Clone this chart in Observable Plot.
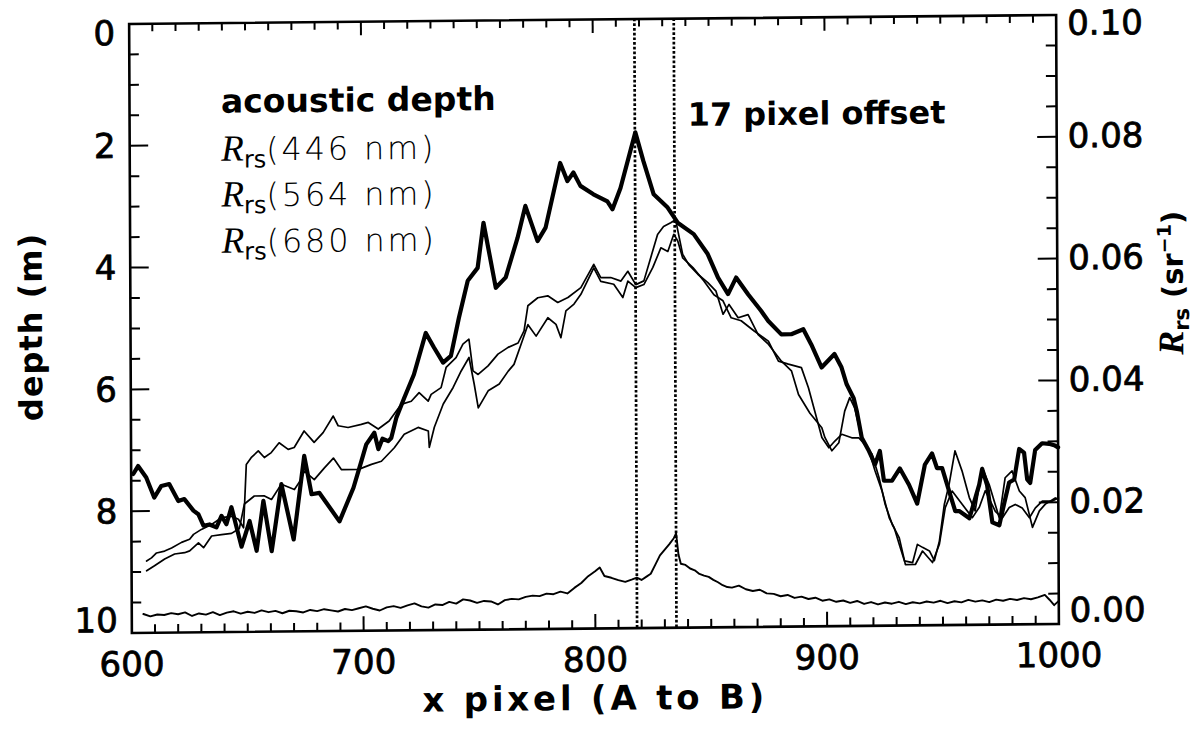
<!DOCTYPE html>
<html><head><meta charset="utf-8">
<script src="https://cdn.jsdelivr.net/npm/d3@7"></script>
<script src="https://cdn.jsdelivr.net/npm/@observablehq/plot@0.6"></script>
<style>
html,body{margin:0;padding:0;background:#fff;}
#chart{position:absolute;left:0;top:0;width:1199px;height:732px;transform-origin:593.5px 323px;transform:matrix(1,-0.00972,0.0045,1,0,0);}
#chart svg{overflow:visible;}
g[aria-label="x-labels"] text{letter-spacing:1px;}
</style></head><body><div id="chart"></div>
<script>
// ---------- data ----------
const xDomain = [600, 1000];
const depthDomain = [0, 10];
const xLabelTicks = [600, 700, 800, 900, 1000];
const xMajorTicks = [700, 800, 900];
const xMinorTicks = [610,620,630,640,650,660,670,680,690,710,720,730,740,750,760,770,780,790,810,820,830,840,850,860,870,880,890,910,920,930,940,950,960,970,980,990];
const depthTicks = [0, 2, 4, 6, 8, 10];
const depthMajorTicks = [2, 4, 6, 8];
const depthMinorTicks = [0.5,1,1.5,2.5,3,3.5,4.5,5,5.5,6.5,7,7.5,8.5,9,9.5];
const rrsTickLabels = ["0.10", "0.08", "0.06", "0.04", "0.02", "0.00"];
const offsetLines = [818, 835];

// acoustic depth (m) vs x pixel
const acoustic = [[600.9,7.39],[603,7.26],[606.5,7.45],[609.9,7.78],[613,7.59],[616.4,7.56],[620.3,7.84],[622.9,7.81],[626.8,8.0],[628.9,8.06],[631.1,8.25],[633.7,8.23],[636.7,8.28],[638.9,8.09],[641,8.23],[643.2,7.95],[647.5,8.6],[651,8.18],[654,8.67],[657,7.85],[660.5,8.68],[664.8,7.58],[670,8.49],[674.7,7.12],[677.8,7.75],[681.2,7.73],[689.8,8.2],[695.9,7.65],[699.4,7.21],[701.5,6.94],[705,6.75],[706.7,7.02],[708.5,6.85],[711,6.89],[712.3,6.84],[714.5,6.51],[718,6.18],[722.2,5.80],[727.4,5.12],[730.9,5.36],[734.8,5.61],[738.2,5.50],[741.7,4.88],[745.6,4.27],[749.9,4.06],[752.5,3.32],[757.7,4.39],[762,4.22],[767.2,3.57],[770.6,3.05],[775.8,3.63],[779.3,3.41],[785.7,2.35],[788.8,2.65],[791.4,2.51],[794.4,2.73],[800,2.87],[806,2.99],[808.2,3.12],[811.7,2.77],[818.2,1.86],[821.6,2.33],[826,2.88],[832,3.10],[836.3,3.35],[843.2,3.54],[849.2,3.87],[853.6,4.26],[857.9,4.53],[861.4,4.26],[866.6,4.54],[872.1,4.81],[875.2,4.98],[880.8,5.20],[885.1,5.20],[890.3,5.12],[893.7,5.37],[898.1,5.75],[903.7,5.53],[906.7,5.75],[908.9,6.03],[911.9,6.26],[913.2,6.47],[915.3,6.91],[918.4,7.13],[921,7.35],[923.1,7.13],[924.8,7.62],[928.3,7.62],[931.7,7.42],[935.6,7.69],[939.1,8.0],[942.5,7.36],[945.6,7.18],[947.7,7.42],[949.9,7.42],[952.9,7.8],[955.5,8.13],[957.2,8.13],[961.6,8.25],[965.9,7.70],[967.2,7.44],[969.3,7.71],[971.5,8.32],[974.5,8.37],[976.7,8.0],[978.8,7.67],[981,7.62],[983.2,7.12],[985.3,7.18],[986.6,7.62],[987.9,7.68],[990.1,7.14],[993.1,7.03],[996.1,7.04],[998.7,7.07],[1000,7.1]];

// Rrs (sr^-1) vs x pixel
const rrs446 = [[606.5,0.0118],[608.6,0.0123],[610.8,0.0131],[614.3,0.0134],[617.3,0.0139],[621.6,0.0148],[625.1,0.0153],[626.8,0.0161],[630.2,0.0169],[634.6,0.0177],[638.9,0.0188],[643.2,0.0190],[646.2,0.0185],[648.4,0.0171],[649.7,0.0275],[651.8,0.0286],[654.9,0.0297],[657.5,0.0286],[660.5,0.0294],[663.9,0.0310],[667.8,0.0299],[670.4,0.0302],[674.7,0.0329],[679,0.0310],[682.9,0.0326],[687.3,0.0353],[689.4,0.0337],[693.7,0.0334],[699.4,0.0339],[702.4,0.0342],[706.7,0.0331],[711.4,0.0344],[716.6,0.0371],[721,0.0376],[724.4,0.0390],[728.3,0.0376],[729.6,0.0387],[733.9,0.0398],[736.1,0.0431],[740.4,0.0447],[743.4,0.0469],[746,0.0477],[747.7,0.0425],[749.9,0.0419],[754.2,0.0433],[758.5,0.0452],[762.9,0.0463],[767.2,0.0470],[769.8,0.0490],[771.5,0.0531],[775.8,0.0544],[780.1,0.0547],[784.4,0.0536],[788.8,0.0544],[794.4,0.0560],[800,0.0598],[803,0.0576],[807.3,0.0576],[811.7,0.0570],[814.7,0.0586],[818.1,0.0564],[821.6,0.0570],[824.6,0.0608],[827.6,0.0646],[830.2,0.0659],[833.3,0.0665],[835.4,0.0670],[838.4,0.0613],[841,0.0596],[844.9,0.0580],[849.2,0.0566],[852.7,0.0552],[855.7,0.0514],[858.3,0.0530],[862.2,0.0508],[866.5,0.0513],[870.8,0.0480],[875.2,0.0464],[880.8,0.0436],[885.1,0.0420],[888.1,0.0381],[893,0.0350],[898.1,0.0326],[899.4,0.0310],[902.4,0.0288],[905.4,0.0301],[908,0.0353],[910.2,0.0375],[912.3,0.0358],[915.3,0.0309],[918.4,0.0287],[921,0.0254],[924,0.0221],[927,0.0177],[929.2,0.0160],[931.3,0.0133],[933.5,0.0106],[937,0.0103],[939.1,0.0133],[941.3,0.0128],[944.3,0.0122],[946.4,0.0106],[948.6,0.0138],[950.8,0.0198],[952.9,0.0231],[955.5,0.0286],[958.5,0.0253],[961.6,0.0209],[964.1,0.0187],[967.2,0.0258],[970.2,0.0230],[972.8,0.0197],[974.5,0.0175],[977.1,0.0241],[980.1,0.0252],[983.2,0.0219],[985.7,0.0208],[988.8,0.0159],[991.8,0.0186],[994.4,0.0197],[998.7,0.0207],[1000,0.0205]];

const rrs564 = [[606.5,0.0102],[609.9,0.0110],[614.3,0.0121],[618.6,0.0129],[622.9,0.0131],[625.1,0.0134],[628.9,0.0147],[631.1,0.0139],[634.6,0.0158],[638.9,0.0160],[643.2,0.0162],[646.6,0.0170],[648.8,0.0210],[653.1,0.0223],[657.5,0.0223],[660.5,0.0217],[664.8,0.0242],[670.4,0.0233],[673.4,0.0250],[674.7,0.0263],[679,0.0249],[683.4,0.0268],[687.3,0.0284],[690.7,0.0265],[698.1,0.0265],[703.7,0.0273],[708,0.0278],[713.6,0.0300],[717.9,0.0322],[723.9,0.0333],[728.3,0.0327],[728.7,0.0300],[730.9,0.0333],[734.8,0.0371],[739.1,0.0398],[742.6,0.0425],[746,0.0447],[748.2,0.0403],[749.9,0.0364],[754.2,0.0392],[759,0.0403],[762.9,0.0424],[765.4,0.0435],[768.5,0.0468],[771.5,0.0500],[775,0.0481],[780.1,0.0511],[783.6,0.0500],[785.7,0.0478],[787.9,0.0522],[791.4,0.0533],[794.4,0.0549],[800,0.0592],[803,0.0570],[808.6,0.0565],[812.5,0.0543],[814.7,0.0570],[818.1,0.0559],[821.6,0.0564],[825.5,0.0592],[829,0.0624],[832,0.0618],[834.6,0.0646],[836.3,0.0635],[838.4,0.0607],[842.8,0.0591],[847.5,0.0569],[851.8,0.0546],[855.7,0.0536],[859.2,0.0508],[863.5,0.0503],[869.1,0.0486],[875.2,0.0469],[879.5,0.0436],[883.8,0.0431],[889.4,0.0425],[892.4,0.0392],[898.1,0.0310],[901.1,0.0293],[903.7,0.0304],[906.7,0.0315],[911,0.0309],[914,0.0309],[916.6,0.0298],[919.7,0.0282],[922.7,0.0243],[925.3,0.0199],[928.3,0.0166],[931.3,0.0144],[933.9,0.0100],[938.2,0.0100],[941.3,0.0122],[945.6,0.0103],[948.6,0.0133],[951.2,0.0193],[954.2,0.0220],[958.5,0.0198],[962.9,0.0176],[965.9,0.0193],[968.5,0.0220],[972.8,0.0186],[975.8,0.0175],[978.8,0.0192],[981.4,0.0197],[984.4,0.0191],[987.5,0.0175],[990.1,0.0191],[993.1,0.0202],[997.4,0.0202],[1000,0.0207]];

const rrs680 = [[605,0.0031],[608,0.0027],[611,0.0030],[614,0.0029],[617,0.0032],[620,0.0030],[623,0.0033],[626,0.0027],[629,0.0031],[632,0.0029],[635,0.0033],[638,0.0028],[641,0.0032],[644,0.0034],[647,0.0030],[650,0.0033],[653,0.0031],[656,0.0035],[659,0.0032],[662,0.0034],[665,0.0030],[668,0.0034],[671,0.0033],[674,0.0031],[677,0.0035],[680,0.0033],[683,0.0036],[686,0.0034],[689,0.0032],[692,0.0036],[695,0.0034],[698,0.0037],[701,0.0040],[704,0.0036],[707,0.0033],[710,0.0038],[713,0.0040],[716,0.0037],[719,0.0041],[722,0.0044],[725,0.0039],[728,0.0037],[731,0.0042],[734,0.0041],[737,0.0046],[740,0.0043],[743,0.0050],[746,0.0048],[749,0.0044],[752,0.0047],[755,0.0046],[758,0.0041],[761,0.0048],[764,0.0050],[767,0.0049],[770,0.0053],[773,0.0055],[776,0.0054],[779,0.0058],[782,0.0057],[785,0.0061],[788,0.0058],[791,0.0067],[794,0.0075],[797,0.0086],[800,0.0094],[802,0.0100],[804,0.0086],[807,0.0083],[810,0.0079],[813,0.0076],[816,0.0080],[818,0.0083],[820,0.0079],[822,0.0084],[824,0.0089],[826,0.0104],[828,0.0119],[830,0.0128],[832,0.0137],[834,0.0147],[835,0.0155],[836,0.0120],[837,0.0105],[839,0.0103],[841,0.0097],[843,0.0094],[845,0.0088],[847,0.0085],[849,0.0083],[851,0.0078],[853,0.0074],[855,0.0069],[857,0.0066],[859,0.0065],[862,0.0068],[865,0.0062],[868,0.0059],[871,0.0061],[874,0.0055],[877,0.0054],[880,0.0050],[883,0.0052],[886,0.0047],[889,0.0049],[892,0.0045],[895,0.0047],[898,0.0042],[901,0.0044],[904,0.0040],[907,0.0042],[910,0.0038],[913,0.0041],[916,0.0036],[919,0.0039],[922,0.0035],[925,0.0038],[928,0.0036],[931,0.0039],[934,0.0035],[937,0.0038],[940,0.0036],[943,0.0039],[946,0.0037],[949,0.0040],[952,0.0036],[955,0.0039],[958,0.0037],[961,0.0041],[964,0.0038],[967,0.0040],[970,0.0037],[973,0.0041],[976,0.0039],[979,0.0042],[982,0.0040],[985,0.0043],[988,0.0041],[991,0.0044],[994,0.0048],[996,0.0040],[998,0.0031],[1000,0.0038]];

// ---------- chart ----------
const W = 1199, H = 732, mL = 130, mR = 142, mT = 19, mB = 104;
const plotW = W - mL - mR, plotH = H - mT - mB;
const rrsToDepth = r => 10 - r * 100;   // right axis 0..0.10 maps onto depth 10..0
const lx = d => d[0];
const tickFont = {fontFamily: "DejaVu Sans", fontSize: 34, fill: "black", stroke: "black", strokeWidth: 0.8};

const plot = Plot.plot({
  width: W, height: H,
  marginLeft: mL, marginRight: mR, marginTop: mT, marginBottom: mB,
  style: {background: "white", color: "black", overflow: "visible"},
  x: {domain: xDomain, axis: null},
  y: {domain: depthDomain, reverse: true, axis: null},
  marks: [
    Plot.line(rrs680, {x: lx, y: d => rrsToDepth(d[1]), stroke: "black", strokeWidth: 1.9, strokeLinejoin: "round"}),
    Plot.line(rrs564, {x: lx, y: d => rrsToDepth(d[1]), stroke: "black", strokeWidth: 1.7, strokeLinejoin: "round"}),
    Plot.line(rrs446, {x: lx, y: d => rrsToDepth(d[1]), stroke: "black", strokeWidth: 1.7, strokeLinejoin: "round"}),
    Plot.line(acoustic, {x: lx, y: d => d[1], stroke: "black", strokeWidth: 4.2, strokeLinejoin: "round", strokeLinecap: "round"}),
    Plot.ruleX(offsetLines, {stroke: "black", strokeWidth: 2.7, strokeDasharray: "2.7,2"}),
    // ticks (inward)
    Plot.tickX(xMinorTicks, {x: d => d, insetTop: plotH - 8, stroke: "black", strokeWidth: 2}),
    Plot.tickX(xMajorTicks, {x: d => d, insetTop: plotH - 14, stroke: "black", strokeWidth: 2}),
    Plot.tickX(xMinorTicks, {x: d => d, insetBottom: plotH - 8, stroke: "black", strokeWidth: 2}),
    Plot.tickX(xMajorTicks, {x: d => d, insetBottom: plotH - 14, stroke: "black", strokeWidth: 2}),
    Plot.tickY(depthMinorTicks, {y: d => d, insetRight: plotW - 10, stroke: "black", strokeWidth: 2}),
    Plot.tickY(depthMajorTicks, {y: d => d, insetRight: plotW - 19, stroke: "black", strokeWidth: 2}),
    Plot.tickY(depthMinorTicks, {y: d => d, insetLeft: plotW - 10, stroke: "black", strokeWidth: 2}),
    Plot.tickY(depthMajorTicks, {y: d => d, insetLeft: plotW - 19, stroke: "black", strokeWidth: 2}),
    Plot.frame({stroke: "black", strokeWidth: 2.6}),
    // tick labels
    Plot.text(xLabelTicks, {x: d => d, text: d => String(d), frameAnchor: "bottom", dy: 32, lineAnchor: "middle", ariaLabel: "x-labels", ...tickFont}),
    Plot.text(depthTicks.slice(0, 1), {y: d => d, text: d => String(d), frameAnchor: "left", dx: -14, dy: 10, textAnchor: "end", lineAnchor: "middle", ...tickFont}),
    Plot.text(depthTicks.slice(1, 5), {y: d => d, text: d => String(d), frameAnchor: "left", dx: -14, dy: 1, textAnchor: "end", lineAnchor: "middle", ...tickFont}),
    Plot.text(depthTicks.slice(5), {y: d => d, text: d => String(d), frameAnchor: "left", dx: -14, dy: -12, textAnchor: "end", lineAnchor: "middle", ...tickFont}),
    Plot.text(depthTicks.slice(0, 1), {y: d => d, text: (d, i) => rrsTickLabels[i], frameAnchor: "right", dx: 11, dy: 9, textAnchor: "start", lineAnchor: "middle", ...tickFont}),
    Plot.text(depthTicks.slice(1, 5), {y: d => d, text: (d, i) => rrsTickLabels[i + 1], frameAnchor: "right", dx: 11, dy: 0, textAnchor: "start", lineAnchor: "middle", ...tickFont}),
    Plot.text(depthTicks.slice(5), {y: d => d, text: (d, i) => rrsTickLabels[5], frameAnchor: "right", dx: 11, dy: -13, textAnchor: "start", lineAnchor: "middle", ...tickFont})
  ]
});
document.getElementById("chart").appendChild(plot);

// ---------- titles and annotations ----------
const svg = d3.select(plot);
const X = v => plot.scale("x").apply(v);
const Y = v => plot.scale("y").apply(v);
const ann = svg.append("g").attr("fill", "black").attr("text-anchor", "start");

// x title
ann.append("text").attr("x", (X(600) + X(1000)) / 2).attr("y", 710)
  .attr("text-anchor", "middle").attr("font-family", "DejaVu Sans").attr("font-weight", "bold")
  .attr("font-size", 34).attr("letter-spacing", 3.8).text("x pixel (A to B)");
// left title
ann.append("text").attr("transform", `translate(42,${(Y(0) + Y(10)) / 2 - 2}) rotate(-90)`)
  .attr("text-anchor", "middle").attr("font-family", "DejaVu Sans").attr("font-weight", "bold")
  .attr("font-size", 32).attr("letter-spacing", 1).text("depth (m)");
// right title
const rt = ann.append("text").attr("transform", `translate(1183,${Y(5) - 35}) rotate(-90)`)
  .attr("text-anchor", "middle").attr("font-family", "DejaVu Sans").attr("font-weight", "bold").attr("font-size", 29);
rt.append("tspan").attr("font-family", "Liberation Serif").attr("font-style", "italic").attr("font-size", 36).text("R");
rt.append("tspan").attr("font-size", 21).attr("dy", 6).text("rs");
rt.append("tspan").attr("dy", -6).text(" (sr");
rt.append("tspan").attr("font-size", 19).attr("dy", -12).text("\u22121");
rt.append("tspan").attr("dy", 12).text(")");

// legend block
const legX = X(639.7);
ann.append("text").attr("x", legX).attr("y", Y(1.48)).attr("font-family", "DejaVu Sans")
  .attr("font-weight", "bold").attr("font-size", 33).text("acoustic depth");
function rrsLabel(y, rest) {
  const t = ann.append("text").attr("x", legX).attr("y", y).attr("font-family", "DejaVu Sans");
  t.append("tspan").attr("font-family", "Liberation Serif").attr("font-style", "italic").attr("font-size", 37).text("R");
  t.append("tspan").attr("font-size", 24).attr("dy", 7).text("rs");
  t.append("tspan").attr("font-size", 32).attr("dy", -7).attr("letter-spacing", 2.8).attr("font-weight", 300).text(rest);
}
rrsLabel(Y(2.27), "(446 nm)");
rrsLabel(Y(3.02), "(564 nm)");
rrsLabel(Y(3.78), "(680 nm)");
// offset annotation
ann.append("text").attr("x", X(841)).attr("y", Y(1.77)).attr("font-family", "DejaVu Sans")
  .attr("font-weight", "bold").attr("font-size", 32).text("17 pixel offset");
</script></body></html>
